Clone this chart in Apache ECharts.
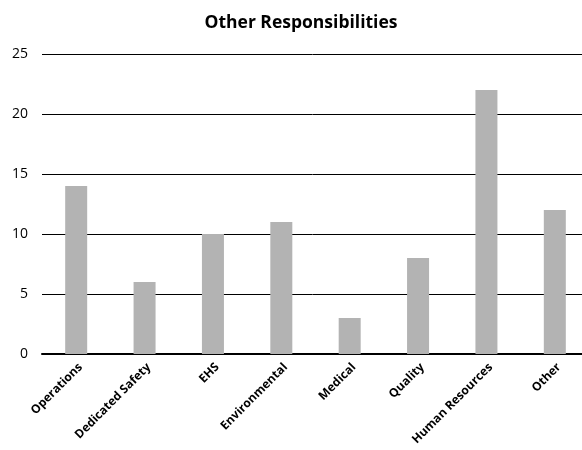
<!DOCTYPE html>
<html>
<head>
<meta charset="utf-8">
<script src="https://cdn.jsdelivr.net/npm/echarts@6/dist/echarts.min.js"></script>
<style>
  html, body { margin: 0; padding: 0; background: #fff; overflow: hidden; }
  #chart { width: 582px; height: 450px; }
</style>
</head>
<body>
<div id="chart"></div>
<script>
// Number of people with each additional responsibility
const categories = ['Operations', 'Dedicated Safety', 'EHS', 'Environmental', 'Medical', 'Quality', 'Human Resources', 'Other'];
const counts = [14, 6, 10, 11, 3, 8, 22, 12];
const yTicks = { min: 0, max: 25, interval: 5 };

const chart = echarts.init(document.getElementById('chart'));
chart.setOption({
  backgroundColor: '#ffffff',
  animation: false,
  title: {
    text: 'Other Responsibilities',
    left: 296,
    textAlign: 'center',
    top: 9,
    textStyle: { fontFamily: 'Open Sans', fontWeight: 'bold', fontSize: 17.5, color: '#000' }
  },
  // plot runs slightly past the right edge of the canvas
  grid: { left: 42, width: 547, top: 54, height: 300, outerBoundsMode: 'none' },
  xAxis: {
    type: 'category',
    data: categories,
    axisLine: { lineStyle: { color: '#000', width: 2 } },
    axisTick: { show: false },
    axisLabel: {
      interval: 0,
      rotate: 45,
      margin: 7,
      verticalAlign: 'top',
      fontFamily: 'Open Sans',
      fontWeight: 'bold',
      fontSize: 12,
      color: '#000'
    }
  },
  yAxis: {
    type: 'value',
    min: yTicks.min,
    max: yTicks.max,
    interval: yTicks.interval,
    axisLine: { show: false },
    axisTick: { show: false },
    axisLabel: { fontFamily: 'Open Sans', fontSize: 14, color: '#000', margin: 14 },
    splitLine: { lineStyle: { color: '#000', width: 1 } }
  },
  series: [{
    type: 'bar',
    data: counts,
    barWidth: 22,
    itemStyle: { color: '#b3b3b3' }
  }]
});
</script>
</body>
</html>
